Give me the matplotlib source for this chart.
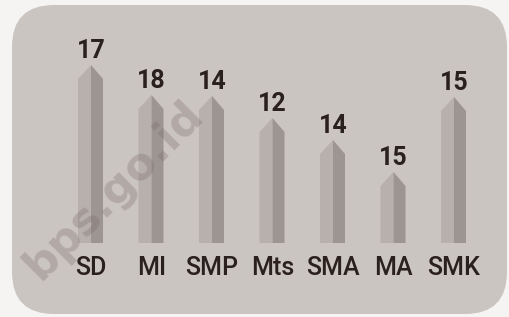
import matplotlib.pyplot as plt
from matplotlib.patches import FancyBboxPatch, Polygon

# data
categories = ["SD", "MI", "SMP", "Mts", "SMA", "MA", "SMK"]
labels = [17, 18, 14, 12, 14, 15, 15]
# drawn bar heights (apex), in pixel-like units above the baseline
heights = [178, 148, 147, 125, 103, 71, 146]

W, H = 510, 317
fig = plt.figure(figsize=(W / 100, H / 100), dpi=100)
fig.patch.set_facecolor("#f6f4f3")

# rounded panel behind everything
bg = fig.add_axes([0, 0, 1, 1])
bg.set_xlim(0, W)
bg.set_ylim(H, 0)
bg.axis("off")
bg.add_patch(FancyBboxPatch((12 + 42, 5 + 42), 495 - 84, 309 - 84,
                            boxstyle="round,pad=42", fc="#cbc5c1", ec="none"))

# bar axes: x = category index, y = height units (1 unit = 1 px)
left = (91 - 30.25) / W
ax = fig.add_axes([left, (H - 243) / H, 60.5 * 7 / W, 200 / H])
ax.set_xlim(-0.5, 6.5)
ax.set_ylim(0, 200)
ax.axis("off")

half_l = 13 / 60.5
half_r = 12 / 60.5
peak = 14
for i, (h, lab) in enumerate(zip(heights, labels)):
    ax.add_patch(Polygon([(i - half_l, 0), (i - half_l, h - peak), (i, h), (i, 0)],
                         closed=True, fc="#b7b0ac", ec="none"))
    ax.add_patch(Polygon([(i, 0), (i, h), (i + half_r, h - peak), (i + half_r, 0)],
                         closed=True, fc="#9c9592", ec="none"))
    ax.annotate(str(lab), (i, h), xytext=(0, 5), textcoords="offset points",
                ha="center", va="baseline", fontsize=18, fontweight="bold",
                color="#2a201e", family=["Roboto", "DejaVu Sans"])
    ax.annotate(categories[i], (i, 0), xytext=(0, -23), textcoords="offset points",
                ha="center", va="baseline", fontsize=18, fontweight="medium",
                color="#2a201e", family=["Roboto", "DejaVu Sans"])

# watermark on top of the bars
fig.text(114 / W, 1 - 190 / H, "bps.go.id", rotation=45, ha="center", va="center",
         fontsize=32, fontweight="bold", color="#7a6868", alpha=0.3,
         family="DejaVu Sans", zorder=10)

fig.savefig("out.png", dpi=100, facecolor=fig.get_facecolor())
